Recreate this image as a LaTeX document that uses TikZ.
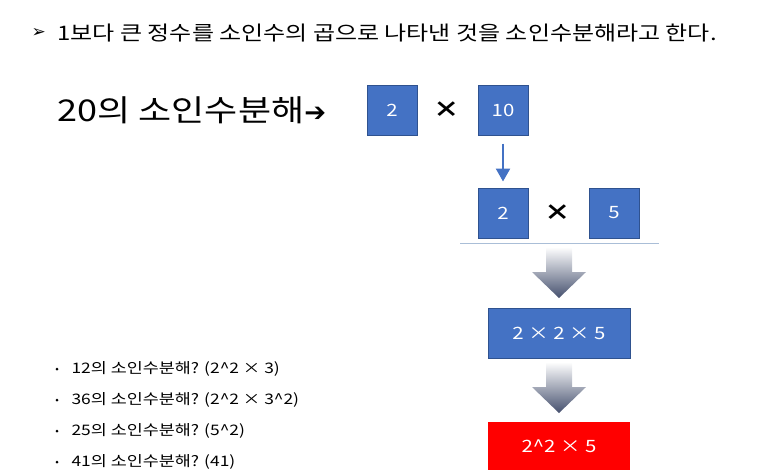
\documentclass[tikz,border=0pt]{standalone}
\usepackage{fontspec}
\setmainfont[FakeStretch=1.2]{Noto Sans CJK KR}
\newfontfamily\symfont{DejaVu Sans}
\usetikzlibrary{arrows.meta}
\definecolor{boxblue}{HTML}{4472C4}
\definecolor{boxedge}{HTML}{2F528F}
\definecolor{arrdark}{HTML}{45506E}
\tikzset{
  numbox/.style={draw=boxedge, line width=1pt, fill=boxblue, text=white,
    minimum width=50pt, minimum height=50pt, font=\fontsize{17}{17}\selectfont},
  widebox/.style={numbox, minimum width=142pt},
  timesmark/.style={font=\fontsize{22}{22}\selectfont\bfseries},
  item/.style={anchor=west, font=\fontsize{14.5}{14.5}\selectfont},
  dot/.style={circle, fill=black, inner sep=0pt, minimum size=3pt}
}
\newcommand{\fatarrow}[2]{% shaft top y, tip y
  \shade[top color=white, bottom color=arrdark]
    (546,#1) -- (572,#1) -- (572,#1+25) -- (586,#1+25) -- (559,#2)
    -- (532,#1+25) -- (546,#1+25) -- cycle;}
\begin{document}
\begin{tikzpicture}[x=1pt, y=-1pt]
  \useasboundingbox (0,0) rectangle (778,475);

  % Heading
  \node[anchor=west, font=\symfont\fontsize{17}{17}\selectfont] (mark) at (28,33) {➢};
  \node[anchor=west, font=\fontsize{20}{20}\selectfont] (head) at (54,33)
    {1보다 큰 정수를 소인수의 곱으로 나타낸 것을 소인수분해라고 한다.};

  % First step
  \node[anchor=west, font=\fontsize{30}{30}\selectfont] (title) at (54,110)
    {20의 소인수분해{\symfont\bfseries\fontsize{26}{26}\selectfont ➔}};
  \node[numbox] (a2) at (392,110) {2};
  \node[timesmark] (t1) at (447,110) {×};
  \node[numbox] (a10) at (503,110) {10};

  % Second step
  \node[numbox] (b2) at (503,213) {2};
  \node[timesmark] (t2) at (558,213) {×};
  \node[numbox] (b5) at (614,213) {5};
  \draw[boxblue, line width=2.5pt, -{Triangle[length=13pt, width=14pt]}]
    ([yshift=-8pt]a10.south) -- ([yshift=6pt]b2.north);
  \draw[color={rgb,255:red,170;green,190;blue,215}, line width=1pt]
    (460,243) -- (659,243);

  % Results
  \fatarrow{247}{298}
  \node[widebox] (c) at (559,333) {2 × 2 × 5};
  \fatarrow{362}{413}
  \node[widebox, fill=red, draw=none, minimum height=48pt] (d) at (559,446) {2\^{}2 × 5};

  % Exercises
  \foreach \y/\txt [count=\i] in {369/12의 소인수분해? (2\^{}2 × 3),
      400/36의 소인수분해? (2\^{}2 × 3\^{}2),
      431/25의 소인수분해? (5\^{}2),
      462/41의 소인수분해? (41)} {
    \node[dot] (dot\i) at (57,\y) {};
    \node[item] (ex\i) at (68,\y) {\txt};
  }
\end{tikzpicture}
\end{document}
